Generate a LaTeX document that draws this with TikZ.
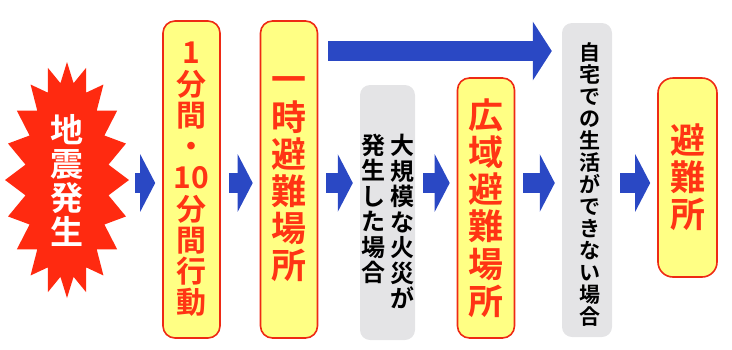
\documentclass[tikz,border=0pt]{standalone}
\usepackage{fontspec}
\newfontfamily\jpfont{Noto Sans CJK JP}[BoldFont={Noto Sans CJK JP Bold}]
\usetikzlibrary{arrows.meta,shapes.symbols,positioning}

\definecolor{boxyellow}{HTML}{FFFF84}
\definecolor{boxred}{HTML}{EE2A14}
\definecolor{textred}{HTML}{FF3414}
\definecolor{flowblue}{HTML}{2A48C4}
\definecolor{burstred}{HTML}{FF2A10}
\definecolor{notegray}{HTML}{E4E4E6}

\tikzset{
  place/.style={draw=boxred, line width=1.6pt, fill=boxyellow, rounded corners=12pt,
                text=textred, align=center, inner sep=0pt, minimum width=57pt,
                font=\jpfont\bfseries\fontsize{35}{37.2}\selectfont},
  note/.style={fill=notegray, rounded corners=10pt, inner sep=0pt},
  notetext/.style={align=center, inner sep=0pt, text=black},
  flow/.style={draw=flowblue, line width=20pt, -{Triangle[length=15pt,width=57pt]},
               shorten <=8pt, shorten >=7pt}
}

\begin{document}
\begin{tikzpicture}[x=1pt,y=-1pt]
  \useasboundingbox (0,0) rectangle (732,349);

  % earthquake
  \node[starburst, random starburst=0, starburst points=20, starburst point height=20pt,
        fill=burstred, minimum width=124pt, minimum height=236pt, inner sep=0pt,
        text=white, align=center, font=\jpfont\bfseries\fontsize{33}{34}\selectfont]
        (quake) at (67,180) {地\\震\\発\\生};

  % places and conditions
  \node[place, minimum height=317pt, font=\jpfont\bfseries\fontsize{30}{31.25}\selectfont]
        (minute) at (191.5,179.5) {1\\分\\間\\・\\10\\分\\間\\行\\動};
  \node[place, minimum height=317pt] (temp) at (289,179.5) {一\\時\\避\\難\\場\\所};
  \node[note, minimum width=55pt, minimum height=255pt] (fire) at (387.5,212.5) {};
  \node[notetext, font=\jpfont\bfseries\fontsize{24}{25.5}\selectfont]
        (fireA) at (402,221.5) {大\\規\\模\\な\\火\\災\\が};
  \node[notetext, font=\jpfont\bfseries\fontsize{24}{25.5}\selectfont]
        (fireB) at (373,209) {発\\生\\し\\た\\場\\合};
  \node[place, minimum height=260pt] (wide) at (486,208) {広\\域\\避\\難\\場\\所};
  \node[note, minimum width=50pt, minimum height=314pt] (home) at (587,180) {};
  \node[notetext, font=\jpfont\bfseries\fontsize{21}{22}\selectfont]
        (homeT) at (590,185) {自\\宅\\で\\の\\生\\活\\が\\で\\き\\な\\い\\場\\合};
  \node[place, minimum width=59pt, minimum height=199pt, rounded corners=15pt]
        (shelter) at (687.5,177.5) {避\\難\\所};

  % arrows
  \coordinate (row) at (0,183);
  \coordinate (top) at (0,51);
  \draw[flow, shorten <=6pt] (quake.east |- row) -- (minute.west |- row);
  \draw[flow] (minute.east |- row) -- (temp.west |- row);
  \draw[flow] (temp.east |- row) -- (fire.west |- row);
  \draw[flow] (fire.east |- row) -- (wide.west |- row);
  \draw[flow] (wide.east |- row) -- (home.west |- row);
  \draw[flow] (home.east |- row) -- (shelter.west |- row);
  \draw[flow, -{Triangle[length=19pt,width=58pt]}, shorten <=10pt, shorten >=10pt]
        (temp.east |- top) -- (home.west |- top);
\end{tikzpicture}
\end{document}
